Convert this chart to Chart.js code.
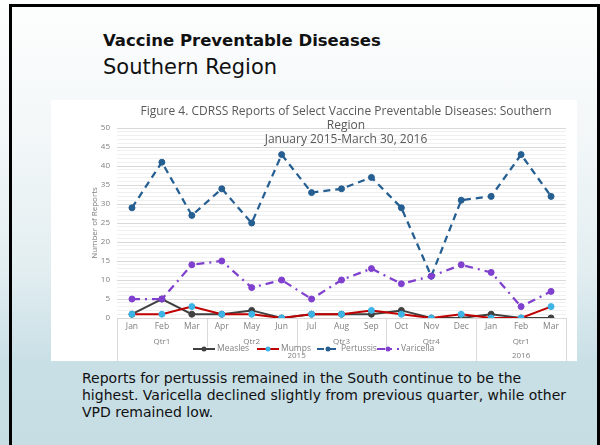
<!DOCTYPE html>
<html>
<head>
<meta charset="utf-8">
<script src="https://cdn.jsdelivr.net/npm/chart.js@4.4.1/dist/chart.umd.min.js"></script>
<style>
  html, body { margin: 0; padding: 0; }
  body {
    width: 600px; height: 445px; overflow: hidden; position: relative;
    background: linear-gradient(to bottom, #fdfefe 0%, #f3f7f8 30%, #e3eef1 60%, #c8dfe6 82%, #c6dde4 100%);
    font-family: "Open Sans", sans-serif;
  }
  #frame {
    position: absolute; left: 9px; top: 4px; width: 600px; height: 460px;
    border-left: 3px solid #000; border-top: 3px solid #000;
  }
  #frameR { position: absolute; left: 597px; top: 4px; width: 3px; height: 445px; background: #000; }
  #h1 { position: absolute; left: 103px; top: 31px; font: bold 16.5px "DejaVu Sans", sans-serif; color: #111; white-space: nowrap; }
  #h2 { position: absolute; left: 103px; top: 55px; font: 21px "DejaVu Sans", sans-serif; color: #111; white-space: nowrap; }
  #box { position: absolute; left: 51px; top: 100px; width: 526px; height: 261px; background: #fff; }
  #note {
    position: absolute; left: 82px; top: 370px; white-space: nowrap;
    font: 14px "DejaVu Sans", sans-serif; line-height: 17px; color: #111;
  }
</style>
</head>
<body>
<div id="frame"></div>
<div id="frameR"></div>
<div id="h1">Vaccine Preventable Diseases</div>
<div id="h2">Southern Region</div>
<div id="box"><canvas id="myChart" width="526" height="261"></canvas></div>
<div id="note">Reports for pertussis remained in the South continue to be the<br>highest. Varicella declined slightly from previous quarter, while other<br>VPD remained low.</div>
<script>
const months = ["Jan","Feb","Mar","Apr","May","Jun","Jul","Aug","Sep","Oct","Nov","Dec","Jan","Feb","Mar"];
const quarters = ["Qtr1","Qtr2","Qtr3","Qtr4","Qtr1"];
const quarterSpans = [3,3,3,3,3];
const years = ["2015","2016"];
const yearSpans = [12,3];

const measles   = [1,5,1,1,2,0,1,1,1,2,0,0,1,0,0];
const mumps     = [1,1,3,1,1,0,1,1,2,1,0,1,0,0,3];
const pertussis = [29,41,27,34,25,43,33,34,37,29,11,31,32,43,32];
const varicella = [5,5,14,15,8,10,5,10,13,9,11,14,12,3,7];

const chartTitle = [
  "Figure 4. CDRSS Reports of Select Vaccine Preventable Diseases: Southern",
  "Region",
  "January 2015-March 30, 2016"
];

const legendItems = [
  { label: "Measles",   line: "#404040", point: "#404040", dash: [] },
  { label: "Mumps",     line: "#c00000", point: "#3cb4e6", dash: [] },
  { label: "Pertussis", line: "#255e91", point: "#255e91", dash: [7,5] },
  { label: "Varicella", line: "#7f3fcf", point: "#7f3fcf", dash: [8,5,2,5] }
];

const gray = "#7f7f7f";

const extras = {
  id: "extras",
  afterDraw(chart) {
    const ctx = chart.ctx;
    const x = chart.scales.x;
    const a = chart.chartArea;
    const step = x.getPixelForValue(1) - x.getPixelForValue(0);
    ctx.save();

    // title
    ctx.fillStyle = "#595959";
    ctx.font = "12px 'Open Sans', sans-serif";
    ctx.textAlign = "center";
    ctx.textBaseline = "middle";
    chartTitle.forEach((t, i) => ctx.fillText(t, 295, 12 + i * 14));

    // y axis title
    ctx.save();
    ctx.translate(44, (a.top + a.bottom) / 2);
    ctx.rotate(-Math.PI / 2);
    ctx.fillStyle = gray;
    ctx.font = "8px 'Open Sans', sans-serif";
    ctx.fillText("Number of Reports", 0, 0);
    ctx.restore();

    // month labels
    ctx.fillStyle = gray;
    ctx.font = "8.5px 'Open Sans', sans-serif";
    months.forEach((m, i) => ctx.fillText(m, x.getPixelForValue(i), a.bottom + 9));

    // quarter / year groups
    ctx.strokeStyle = "#d9d9d9";
    ctx.lineWidth = 1;
    ctx.font = "8px 'Open Sans', sans-serif";
    let idx = 0;
    quarters.forEach((q, k) => {
      const s = idx, e = idx + quarterSpans[k] - 1;
      const cx = (x.getPixelForValue(s) + x.getPixelForValue(e)) / 2;
      ctx.fillText(q, cx, a.bottom + 24);
      const lx = Math.round(x.getPixelForValue(s) - step / 2) + 0.5;
      ctx.beginPath();
      ctx.moveTo(lx, a.bottom);
      ctx.lineTo(lx, a.bottom + 29);
      ctx.stroke();
      idx += quarterSpans[k];
    });
    idx = 0;
    years.forEach((y, k) => {
      const s = idx, e = idx + yearSpans[k] - 1;
      const cx = (x.getPixelForValue(s) + x.getPixelForValue(e)) / 2;
      ctx.fillText(y, cx, a.bottom + 38);
      const lx = Math.round(x.getPixelForValue(s) - step / 2) + 0.5;
      ctx.beginPath();
      ctx.moveTo(lx, a.bottom);
      ctx.lineTo(lx, chart.height);
      ctx.stroke();
      idx += yearSpans[k];
    });
    const rx = Math.round(x.getPixelForValue(months.length - 1) + step / 2) + 0.5;
    ctx.beginPath();
    ctx.moveTo(rx, a.bottom);
    ctx.lineTo(rx, chart.height);
    ctx.stroke();

    // legend
    const starts = [142, 206, 266, 326];
    ctx.font = "8.5px 'Open Sans', sans-serif";
    ctx.textAlign = "left";
    const ly = a.bottom + 31;
    legendItems.forEach((it, i) => {
      const x0 = starts[i];
      ctx.strokeStyle = it.line;
      ctx.lineWidth = 2;
      ctx.setLineDash(it.dash);
      ctx.beginPath();
      ctx.moveTo(x0, ly);
      ctx.lineTo(x0 + 22, ly);
      ctx.stroke();
      ctx.setLineDash([]);
      ctx.fillStyle = it.point;
      ctx.beginPath();
      ctx.arc(x0 + 11, ly, 2.5, 0, Math.PI * 2);
      ctx.fill();
      ctx.fillStyle = gray;
      ctx.fillText(it.label, x0 + 24, ly);
    });
    ctx.restore();
  }
};

function ds(label, data, item, order, width) {
  return {
    label: label,
    data: data,
    borderColor: item.line,
    borderWidth: width,
    borderDash: item.dash,
    pointBackgroundColor: item.point,
    pointBorderColor: item.point,
    pointRadius: 3,
    pointBorderWidth: 1,
    tension: 0,
    fill: false,
    order: order
  };
}

new Chart("myChart", {
  type: "line",
  data: {
    labels: months,
    datasets: [
      ds("Measles", measles, legendItems[0], 4, 2),
      ds("Mumps", mumps, legendItems[1], 3, 2),
      ds("Pertussis", pertussis, legendItems[2], 2, 2.25),
      ds("Varicella", varicella, legendItems[3], 1, 2.25)
    ]
  },
  options: {
    responsive: false,
    animation: false,
    layout: { padding: { top: 28, bottom: 43, left: 0, right: 11 } },
    plugins: { legend: { display: false }, title: { display: false }, tooltip: { enabled: false } },
    scales: {
      x: { display: false, offset: true },
      y: {
        min: 0, max: 50,
        border: { display: false },
        afterFit(scale) { scale.width = 66; },
        grid: {
          drawTicks: false,
          color: (c) => (c.tick && c.tick.value % 5 === 0) ? "#d9d9d9" : "#f0f0f0"
        },
        ticks: {
          stepSize: 1, autoSkip: false, maxTicksLimit: 60, padding: 7,
          color: gray,
          font: { family: "'Open Sans', sans-serif", size: 8 },
          callback: (v) => (v % 5 === 0 ? v : "")
        }
      }
    }
  },
  plugins: [extras]
});
</script>
</body>
</html>
